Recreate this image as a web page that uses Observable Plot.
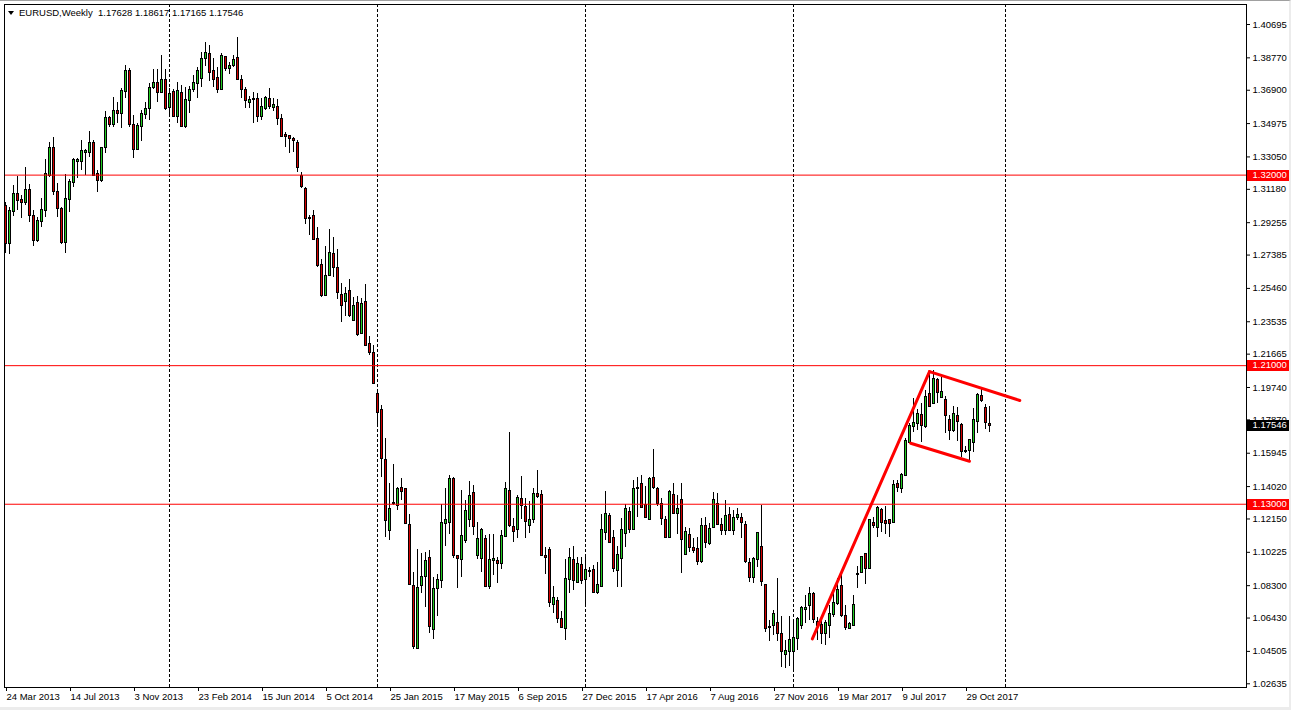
<!DOCTYPE html>
<html><head><meta charset="utf-8">
<script src="https://cdn.jsdelivr.net/npm/d3@7"></script>
<script src="https://cdn.jsdelivr.net/npm/@observablehq/plot@0.6"></script>
<style>
html,body{margin:0;padding:0;background:#fff;}
#wrap{position:relative;width:1291px;height:710px;overflow:hidden;background:#fff;}
#hdr{position:absolute;left:8px;top:7px;font:9.5px "Liberation Sans",Arial,sans-serif;line-height:12px;white-space:pre;color:#000;}
#tri{display:inline-block;width:0;height:0;border-left:3.5px solid transparent;border-right:3.5px solid transparent;border-top:4px solid #000;margin-right:5px;vertical-align:1px;}
#edge{position:absolute;left:0;top:0;right:0;bottom:0;box-sizing:border-box;border-top:1px solid #a0a0a0;border-right:2px solid #ececec;border-bottom:3px solid #ececec;pointer-events:none;}
</style></head><body><div id="wrap"><div id="hdr"></div></div>
<script>
const symbol = "EURUSD";
const period = "Weekly";
const firstWeek = "2013-03-24";

const open = [
1.3019,1.2803,1.2986,1.3092,1.3054,1.3038,1.3115,1.2965,1.2823,1.2928,
1.2992,1.3198,1.3354,1.3104,1.3005,1.2807,1.3057,1.3156,1.3275,1.3279,
1.3327,1.3327,1.3386,1.3204,1.3165,1.3358,1.3531,1.3490,1.3567,1.3554,
1.3679,1.3802,1.3490,1.3346,1.3477,1.3550,1.3583,1.3704,1.3733,1.3673,
1.3750,1.3587,1.3677,1.3535,1.3673,1.3477,1.3630,1.3695,1.3727,1.3756,
1.3871,1.3900,1.3798,1.3762,1.3692,1.3880,1.3812,1.3831,1.3877,1.3746,
1.3689,1.3615,1.3637,1.3640,1.3535,1.3581,1.3637,1.3587,1.3594,1.3525,
1.3429,1.3427,1.3406,1.3386,1.3194,1.3121,1.2953,1.2965,1.2832,1.2678,
1.2505,1.2619,1.2746,1.2665,1.2505,1.2467,1.2528,1.2357,1.2463,1.2284,
1.2469,1.2222,1.2174,1.1937,1.1845,1.1552,1.1145,1.1302,1.1293,1.1395,
1.1385,1.1177,1.0825,1.0465,1.0831,1.0879,1.0991,1.0575,1.0812,1.0856,
1.1187,1.1191,1.1443,1.0998,1.0979,1.1087,1.1210,1.1366,1.1000,1.0985,
1.1100,1.0821,1.0971,1.0969,1.0956,1.1114,1.1374,1.1168,1.1154,1.1327,
1.1283,1.1173,1.1212,1.1356,1.1350,1.1000,1.1033,1.0719,1.0740,1.0635,
1.0581,1.0864,1.0975,1.0846,1.0946,1.0864,1.0908,1.0918,1.0789,1.0821,
1.1133,1.1229,1.1106,1.0914,1.0985,1.1129,1.1254,1.1154,1.1387,1.1414,
1.1293,1.1210,1.1452,1.1389,1.1302,1.1206,1.1106,1.1351,1.1245,1.1325,
1.1008,1.1120,1.1046,1.1043,1.0966,1.1172,1.1072,1.1164,1.1302,1.1177,
1.1148,1.1235,1.1145,1.1222,1.1222,1.1177,1.0962,1.0873,1.0981,1.1052,
1.0831,1.0590,1.0600,1.0615,1.0550,1.0431,1.0446,1.0450,1.0523,1.0596,
1.0690,1.0712,1.0783,1.0619,1.0600,1.0552,1.0600,1.0663,1.0725,1.0827,
1.0656,1.0581,1.0600,1.0894,1.0902,1.1014,1.0927,1.1193,1.1164,1.1268,
1.1204,1.1206,1.1191,1.1414,1.1389,1.1462,1.1653,1.1745,1.1764,1.1812,
1.1749,1.1937,1.1880,1.2014,1.1914,1.1899,1.1783,1.1722,1.1806,1.1758,
1.1606,1.1606,1.1653,1.1778,1.1922,1.1857,1.17628];

const high = [
1.3044,1.3015,1.3138,1.3194,1.3082,1.3244,1.3146,1.2996,1.2957,1.3063,
1.3290,1.3388,1.3415,1.3150,1.3015,1.3204,1.3173,1.3298,1.3294,1.3400,
1.3346,1.3452,1.3400,1.3227,1.3361,1.3567,1.3539,1.3650,1.3621,1.3702,
1.3833,1.3818,1.3544,1.3496,1.3573,1.3621,1.3731,1.3808,1.3808,1.3891,
1.3808,1.3698,1.3692,1.3737,1.3717,1.3708,1.3712,1.3775,1.3823,1.3910,
1.3964,1.3948,1.3871,1.3819,1.3900,1.3885,1.3852,1.3891,1.3996,1.3775,
1.3708,1.3654,1.3677,1.3669,1.3640,1.3654,1.3698,1.3640,1.3637,1.3548,
1.3444,1.3429,1.3415,1.3400,1.3217,1.3127,1.2967,1.2994,1.2896,1.2713,
1.2788,1.2884,1.2838,1.2769,1.2572,1.2553,1.2597,1.2495,1.2501,1.2486,
1.2569,1.2268,1.2216,1.1960,1.1870,1.1678,1.1418,1.1529,1.1399,1.1447,
1.1389,1.1241,1.0908,1.1037,1.1018,1.1023,1.1033,1.0879,1.0894,1.1297,
1.1393,1.1466,1.1452,1.1004,1.1379,1.1322,1.1431,1.1408,1.1193,1.1160,
1.1120,1.1123,1.1123,1.0994,1.1148,1.1427,1.1716,1.1216,1.1350,1.1460,
1.1331,1.1316,1.1389,1.1495,1.1379,1.1052,1.1052,1.0825,1.0763,1.0683,
1.0981,1.1043,1.1056,1.0991,1.0995,1.0991,1.0937,1.0946,1.0966,1.1241,
1.1374,1.1245,1.1148,1.1058,1.1216,1.1299,1.1283,1.1437,1.1456,1.1466,
1.1402,1.1456,1.1616,1.1399,1.1331,1.1229,1.1379,1.1418,1.1351,1.1418,
1.1168,1.1158,1.1100,1.1110,1.1216,1.1225,1.1187,1.1366,1.1360,1.1216,
1.1322,1.1283,1.1264,1.1273,1.1245,1.1202,1.0985,1.0995,1.1139,1.1293,
1.0837,1.0629,1.0687,1.0870,1.0650,1.0513,1.0652,1.0629,1.0648,1.0710,
1.0773,1.0821,1.0792,1.0648,1.0638,1.0629,1.0715,1.0783,1.0869,1.0898,
1.0715,1.0619,1.0771,1.0941,1.0998,1.1018,1.1212,1.1225,1.1289,1.1274,
1.1289,1.1210,1.1437,1.1437,1.1476,1.1678,1.1764,1.1909,1.1845,1.1880,
1.1957,1.2053,1.2072,1.2024,1.2034,1.1922,1.1812,1.1864,1.1860,1.1764,
1.1633,1.1672,1.1855,1.1937,1.1960,1.1876,1.18617];

const low = [
1.2746,1.2740,1.2963,1.2996,1.2952,1.3025,1.2928,1.2790,1.2813,1.2900,
1.2957,1.3188,1.3082,1.2953,1.2800,1.2749,1.2986,1.3131,1.3182,1.3227,
1.3198,1.3304,1.3192,1.3102,1.3159,1.3323,1.3477,1.3477,1.3496,1.3467,
1.3644,1.3477,1.3294,1.3342,1.3396,1.3519,1.3515,1.3696,1.3621,1.3673,
1.3573,1.3539,1.3535,1.3500,1.3473,1.3467,1.3558,1.3679,1.3640,1.3704,
1.3827,1.3742,1.3704,1.3669,1.3689,1.3800,1.3779,1.3823,1.3746,1.3640,
1.3583,1.3583,1.3500,1.3506,1.3515,1.3573,1.3577,1.3567,1.3486,1.3415,
1.3361,1.3327,1.3333,1.3217,1.3121,1.2915,1.2851,1.2823,1.2669,1.2495,
1.2501,1.2615,1.2611,1.2480,1.2351,1.2384,1.2380,1.2357,1.2268,1.2280,
1.2211,1.2159,1.1992,1.1745,1.1452,1.1110,1.1091,1.1293,1.1264,1.1322,
1.1183,1.0831,1.0459,1.0463,1.0783,1.0706,1.0552,1.0517,1.0652,1.0816,
1.1056,1.1125,1.0985,1.0812,1.0879,1.1071,1.1168,1.1120,1.0979,1.0908,
1.0819,1.0806,1.0889,1.0840,1.0921,1.1110,1.1168,1.1081,1.1100,1.1210,
1.1100,1.1129,1.1187,1.1331,1.0998,1.0894,1.0702,1.0667,1.0610,1.0581,
1.0513,1.0787,1.0802,1.0840,1.0837,1.0706,1.0879,1.0783,1.0779,1.0821,
1.1091,1.1072,1.0908,1.0821,1.0817,1.1052,1.1129,1.1148,1.1222,1.1273,
1.1216,1.1210,1.1385,1.1287,1.1177,1.1100,1.1100,1.1241,1.1125,1.0902,
1.1004,1.1023,1.1014,1.0946,1.0956,1.1043,1.1062,1.1158,1.1177,1.1120,
1.1120,1.1145,1.1120,1.1206,1.1100,1.0960,1.0850,1.0844,1.0937,1.0825,
1.0562,1.0510,1.0542,1.0510,1.0359,1.0350,1.0363,1.0340,1.0456,1.0575,
1.0610,1.0629,1.0610,1.0513,1.0490,1.0485,1.0523,1.0648,1.0715,1.0648,
1.0571,1.0575,1.0598,1.0812,1.0898,1.0837,1.0921,1.1158,1.1106,1.1139,
1.1125,1.1110,1.1187,1.1370,1.1364,1.1460,1.1649,1.1716,1.1726,1.1658,
1.1735,1.1857,1.1876,1.1884,1.1912,1.1710,1.1668,1.1716,1.1664,1.1572,
1.1591,1.1549,1.1601,1.1707,1.1889,1.1729,1.17165];

const close = [
1.2803,1.2990,1.3092,1.3050,1.3038,1.3115,1.2965,1.2823,1.2932,1.2996,
1.3204,1.3354,1.3102,1.3005,1.2807,1.3059,1.3156,1.3285,1.3285,1.3335,
1.3336,1.3386,1.3198,1.3169,1.3358,1.3531,1.3490,1.3567,1.3554,1.3683,
1.3802,1.3490,1.3346,1.3481,1.3550,1.3583,1.3704,1.3733,1.3673,1.3750,
1.3583,1.3664,1.3539,1.3683,1.3481,1.3635,1.3692,1.3733,1.3798,1.3871,
1.3906,1.3789,1.3750,1.3694,1.3885,1.3812,1.3831,1.3866,1.3752,1.3692,
1.3627,1.3631,1.3640,1.3535,1.3594,1.3644,1.3592,1.3606,1.3525,1.3423,
1.3423,1.3410,1.3398,1.3242,1.3131,1.2948,1.2948,1.2826,1.2678,1.2505,
1.2619,1.2751,1.2665,1.2519,1.2447,1.2515,1.2386,1.2442,1.2280,1.2453,
1.2216,1.2172,1.1995,1.1831,1.1562,1.1202,1.1273,1.1308,1.1389,1.1375,
1.1187,1.0835,1.0479,1.0817,1.0879,1.0969,1.0594,1.0808,1.0864,1.1193,
1.1206,1.1443,1.1004,1.0985,1.1114,1.1258,1.1345,1.1168,1.1100,1.1152,
1.0821,1.0975,1.0981,1.0956,1.1114,1.1385,1.1177,1.1139,1.1335,1.1289,
1.1200,1.1206,1.1356,1.1345,1.1004,1.0994,1.0729,1.0760,1.0638,1.0587,
1.0869,1.0991,1.0856,1.0952,1.0856,1.0921,1.0912,1.0789,1.0831,1.1152,
1.1245,1.1075,1.0927,1.1004,1.1148,1.1273,1.1154,1.1389,1.1395,1.1279,
1.1220,1.1447,1.1395,1.1302,1.1216,1.1106,1.1370,1.1248,1.1273,1.1094,
1.1139,1.1048,1.1029,1.0966,1.1172,1.1077,1.1158,1.1322,1.1183,1.1148,
1.1229,1.1148,1.1222,1.1235,1.1191,1.0966,1.0873,1.0981,1.1135,1.0850,
1.0581,1.0585,1.0667,1.0552,1.0446,1.0450,1.0513,1.0527,1.0635,1.0702,
1.0700,1.0783,1.0633,1.0596,1.0552,1.0615,1.0667,1.0731,1.0802,1.0654,
1.0587,1.0606,1.0719,1.0898,1.0994,1.0927,1.1206,1.1173,1.1279,1.1191,
1.1187,1.1187,1.1412,1.1395,1.1466,1.1662,1.1749,1.1768,1.1818,1.1755,
1.1918,1.1860,1.2024,1.1943,1.1947,1.1812,1.1726,1.1818,1.1774,1.1601,
1.1601,1.1668,1.1783,1.1928,1.1895,1.1768,1.17546];

const xTickLabels = ["24 Mar 2013","14 Jul 2013","3 Nov 2013","23 Feb 2014","15 Jun 2014","5 Oct 2014",
  "25 Jan 2015","17 May 2015","6 Sep 2015","27 Dec 2015","17 Apr 2016","7 Aug 2016",
  "27 Nov 2016","19 Mar 2017","9 Jul 2017","29 Oct 2017"];
const yTickValues = [1.40695,1.38770,1.36900,1.34975,1.33050,1.31180,1.29255,1.27385,1.25460,1.23535,
  1.21665,1.19740,1.17870,1.15945,1.14020,1.12150,1.10225,1.08300,1.06430,1.04505,1.02635];
const yearSeparators = ["2014-01-05","2015-01-04","2016-01-03","2017-01-01","2018-01-07"];
const levelLines = [1.32, 1.21, 1.13];
const trendIds = ["impulse","impulse","flagTop","flagTop","flagBottom","flagBottom"];
const trendDates = ["2017-02-03","2017-08-27","2017-08-27","2018-02-01","2017-07-25","2017-11-05"];
const trendPrices = [1.0523,1.2066,1.2066,1.1899,1.1652,1.1548];

// ---- build tables ----
const parseISO = d3.utcParse("%Y-%m-%d");
const parseLabel = d3.utcParse("%d %b %Y");
const t0 = parseISO(firstWeek);
const bars = close.map((c, i) => ({date: d3.utcWeek.offset(t0, i), open: open[i], high: high[i], low: low[i], close: c}));
const xTicks = xTickLabels.map(parseLabel);
const labelOf = new Map(xTicks.map((d, i) => [+d, xTickLabels[i]]));
const seps = yearSeparators.map(parseISO);
const trend = trendIds.map((id, i) => ({id, date: parseISO(trendDates[i]), price: trendPrices[i]}));

const WEEK = 7 * 864e5;
const HALF_BODY = 42 * 36e5; // quarter of a week
const FONT = "Liberation Sans, Arial, sans-serif";
const bullFill = "#22cc22", bearFill = "#d40000";

const chart = Plot.plot({
  width: 1291, height: 710,
  marginTop: 4, marginLeft: 4, marginRight: 45, marginBottom: 23,
  style: {fontFamily: FONT, fontSize: "9.5px", color: "#000", background: "#fff", overflow: "visible"},
  x: {type: "utc", domain: [new Date(+t0 - 0.25 * WEEK), new Date(+t0 + 310.25 * WEEK)], axis: null},
  y: {domain: [1.02421, 1.41850], axis: null},
  marks: [
    Plot.ruleX(seps, {stroke: "#000", strokeWidth: 1, strokeDasharray: "3,2"}),
    Plot.ruleX(bars, {x: "date", y1: "low", y2: "high", stroke: "#000", strokeWidth: 1, shapeRendering: "crispEdges"}),
    Plot.rect(bars, {
      x1: d => new Date(+d.date - HALF_BODY), x2: d => new Date(+d.date + HALF_BODY),
      y1: d => Math.min(d.open, d.close), y2: d => Math.max(d.open, d.close),
      fill: d => d.close >= d.open ? bullFill : bearFill,
      stroke: "#000", strokeWidth: 1, insetTop: -0.25, insetBottom: -0.25, shapeRendering: "crispEdges"
    }),
    Plot.ruleY(levelLines, {stroke: "#ff0000", strokeWidth: 1}),
    Plot.line(trend, {x: "date", y: "price", z: "id", stroke: "#ff0000", strokeWidth: 3}),
    Plot.frame({stroke: "#000"}),
    Plot.axisY(yTickValues, {anchor: "right", tickSize: 3, tickPadding: 3, tickFormat: d => d.toFixed(5)}),
    Plot.axisX(xTicks, {anchor: "bottom", tickSize: 4, tickPadding: 2, textAnchor: "start", dx: 1, tickFormat: d => labelOf.get(+d)})
  ]
});
document.getElementById("wrap").appendChild(chart);

// price labels on the right scale (level lines + current price)
const ys = chart.scale("y");
const yPix = ys.apply ? (v => ys.apply(v)) : d3.scaleLinear(ys.domain, ys.range);
const g = d3.select(chart).append("g")
  .attr("font-family", FONT).attr("font-size", "9.5px").attr("text-anchor", "start");
function priceBox(v, color) {
  const py = yPix(v);
  g.append("rect").attr("x", 1247).attr("y", Math.round(py) - 5).attr("width", 44).attr("height", 11).attr("fill", color);
  g.append("text").attr("x", 1252.5).attr("y", py).attr("dy", "0.32em").attr("text-anchor", "start")
    .attr("fill", "#fff").text(v.toFixed(5));
}
levelLines.forEach(v => priceBox(v, "#ff0000"));
const last = bars[bars.length - 1];
priceBox(last.close, "#000");

// header
document.getElementById("hdr").innerHTML = '<span id="tri"></span>' +
  `${symbol},${period}  ${last.open.toFixed(5)} ${last.high.toFixed(5)} ${last.low.toFixed(5)} ${last.close.toFixed(5)}`;
const wrap = document.getElementById("wrap");
wrap.appendChild(document.getElementById("hdr"));
const edge = document.createElement("div"); edge.id = "edge"; wrap.appendChild(edge);
</script></body></html>
